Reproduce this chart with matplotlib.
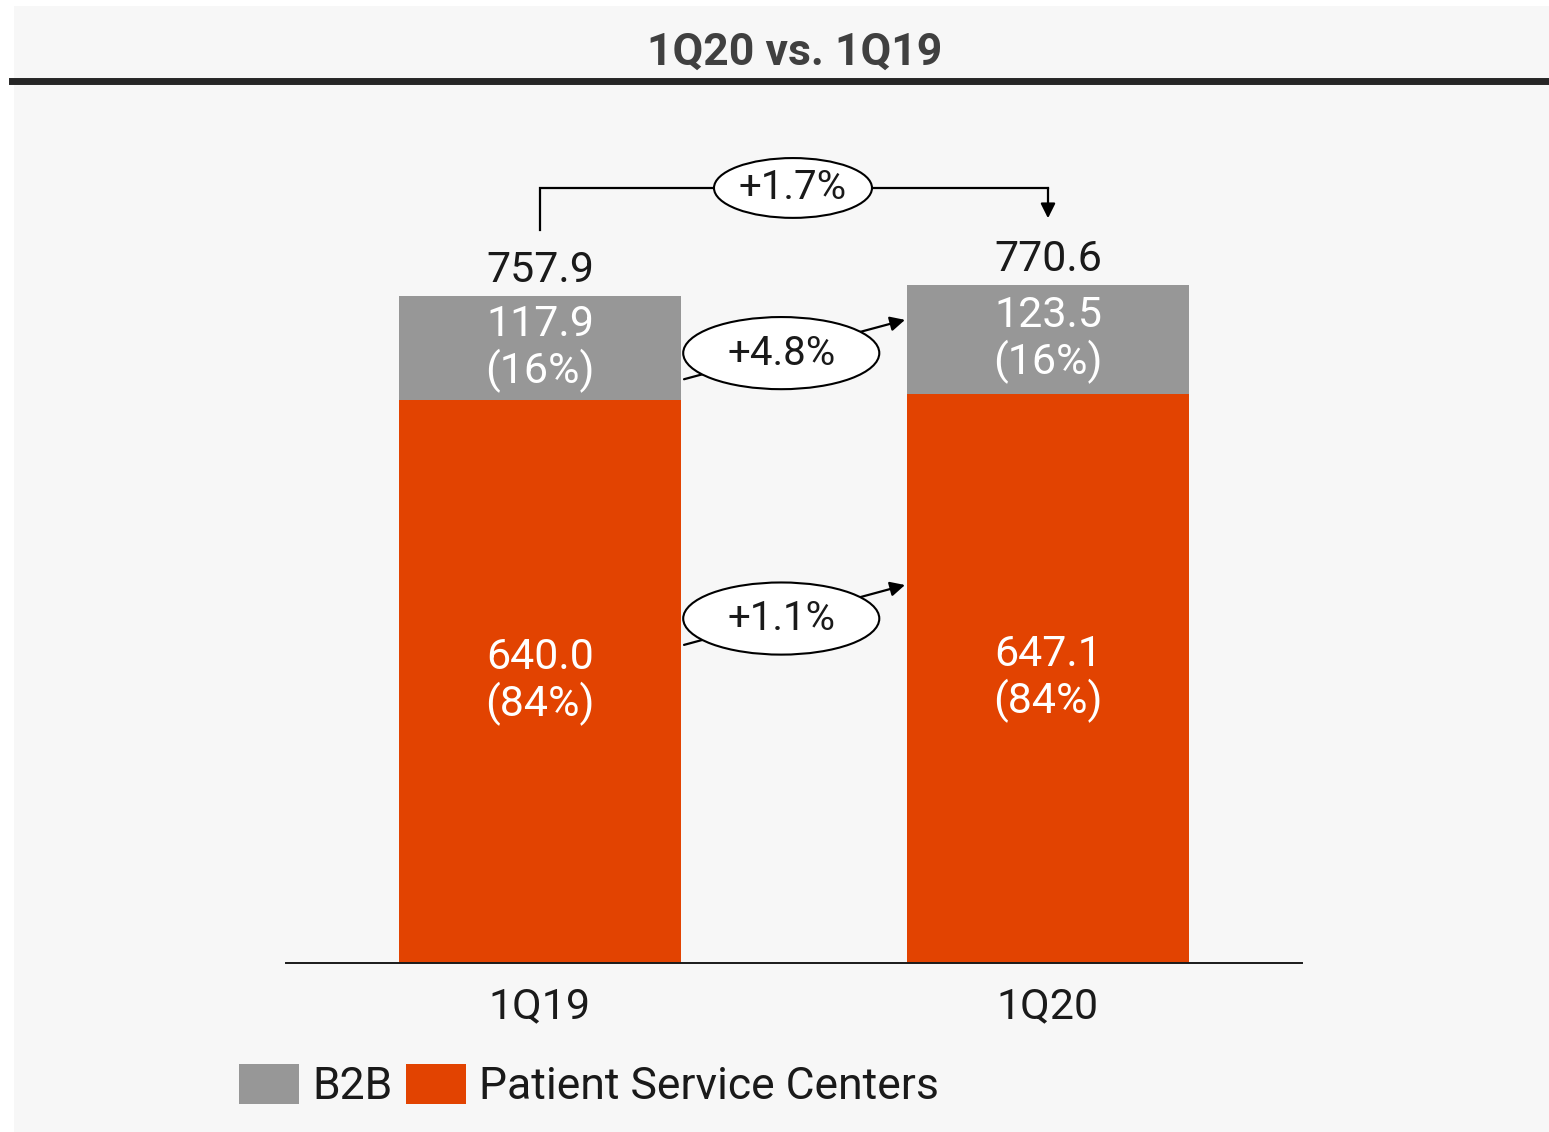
import matplotlib

matplotlib.use("Agg")
import matplotlib.pyplot as plt
from matplotlib.patches import Ellipse, Rectangle

# Donnees (en M)
periodes = ["1Q19", "1Q20"]
b2b = [117.9, 123.5]
psc = [640.0, 647.1]
totaux = [757.9, 770.6]
parts_b2b = ["16%", "16%"]
parts_psc = ["84%", "84%"]
croissance_totale = "+1.7%"
croissance_b2b = "+4.8%"
croissance_psc = "+1.1%"
series = ["B2B", "Patient Service Centers"]
titre = "1Q20 vs. 1Q19"

GRIS = "#979797"
ORANGE = "#e24301"
FOND = "#f7f7f7"
POLICE = ["Roboto", "DejaVu Sans"]

plt.rcParams["font.family"] = POLICE

W, H = 1549, 1132
fig = plt.figure(figsize=(W / 100, H / 100), dpi=100, facecolor="white")

# panneau gris clair + filet du titre
fig.patches.append(Rectangle((14 / W, 0), 1 - 14 / W, 1 - 6 / H, transform=fig.transFigure,
                             facecolor=FOND, edgecolor="none", zorder=-5))
fig.add_artist(plt.Line2D([12 / W, 1], [1 - 81 / H] * 2, color="#262626", linewidth=5.0))
fig.text(795 / W, 1 - 53 / H, titre, ha="center", va="center", fontsize=32,
         fontweight="bold", color="#404040")

ax = fig.add_axes([286 / W, 1 - 963 / H, 1016 / W, 863 / H])
ax.set_facecolor("none")

x = list(range(len(periodes)))
largeur = 0.555
barres_psc = ax.bar(x, psc, width=largeur, color=ORANGE, label=series[1], zorder=2)
barres_b2b = ax.bar(x, b2b, width=largeur, bottom=psc, color=GRIS, label=series[0], zorder=2)

ax.set_xlim(-0.5, 1.5)
ax.set_ylim(0, 981)
ax.set_yticks([])
ax.set_xticks(x, periodes, fontsize=31, color="#1a1a1a")
ax.tick_params(axis="x", length=0, pad=17)
for cote in ["top", "right", "left"]:
    ax.spines[cote].set_visible(False)
ax.spines["bottom"].set_linewidth(1.4)
ax.spines["bottom"].set_color("#1a1a1a")

# etiquettes
for i in x:
    ax.text(i, totaux[i] + 29, f"{totaux[i]:.1f}", ha="center", va="center",
            fontsize=31, color="#1a1a1a")
    ax.text(i, psc[i] + b2b[i] / 2, f"{b2b[i]:.1f}\n({parts_b2b[i]})", ha="center",
            va="center", fontsize=31, color="white", linespacing=1.12, zorder=3)
    ax.text(i, psc[i] / 2, f"{psc[i]:.1f}\n({parts_psc[i]})", ha="center",
            va="center", fontsize=31, color="white", linespacing=1.12, zorder=3)


def bulle(ax, cx: float, cy: float, texte: str, largeur: float, hauteur: float) -> None:
    ax.add_patch(Ellipse((cx, cy), largeur, hauteur, facecolor="white",
                         edgecolor="black", linewidth=1.5, zorder=5))
    ax.text(cx, cy, texte, ha="center", va="center", fontsize=29,
            color="#1a1a1a", zorder=6)


def fleche(ax, x0: float, y0: float, x1: float, y1: float) -> None:
    ax.annotate("", xy=(x1, y1), xytext=(x0, y0),
                arrowprops=dict(arrowstyle="-|>", color="black", lw=1.6,
                                mutation_scale=22, shrinkA=0, shrinkB=0), zorder=4)


# crochet de croissance totale
y_crochet = 881
ax.plot([x[0], x[0], x[1]], [totaux[0] + 75, y_crochet, y_crochet], color="black",
        linewidth=1.6, zorder=4, solid_joinstyle="miter")
fleche(ax, x[1], y_crochet, x[1], totaux[1] + 76)
bulle(ax, 0.498, y_crochet, croissance_totale, 0.311, 68)

# fleches entre segments
bord_g = x[0] + largeur / 2 + 0.006
bord_d = x[1] - largeur / 2 - 0.004
for y0, y1, texte in [
    (psc[0] + 0.2 * b2b[0], psc[1] + 0.68 * b2b[1], croissance_b2b),
    (0.565 * psc[0], 0.664 * psc[1], croissance_psc),
]:
    fleche(ax, bord_g, y0, bord_d, y1)
    t = 0.44
    bulle(ax, bord_g + t * (bord_d - bord_g), y0 + t * (y1 - y0), texte, 0.386, 82)

fig.legend(handles=[barres_b2b, barres_psc], labels=series, loc="center left",
           bbox_to_anchor=(239 / W, 1 - 1086 / H), bbox_transform=fig.transFigure,
           ncol=2, frameon=False, fontsize=32, handlelength=1.35, handleheight=1.0,
           handletextpad=0.3, columnspacing=0.3, borderpad=0, borderaxespad=0,
           labelcolor="#1a1a1a")

fig.savefig("out.png", dpi=100, facecolor="white")
